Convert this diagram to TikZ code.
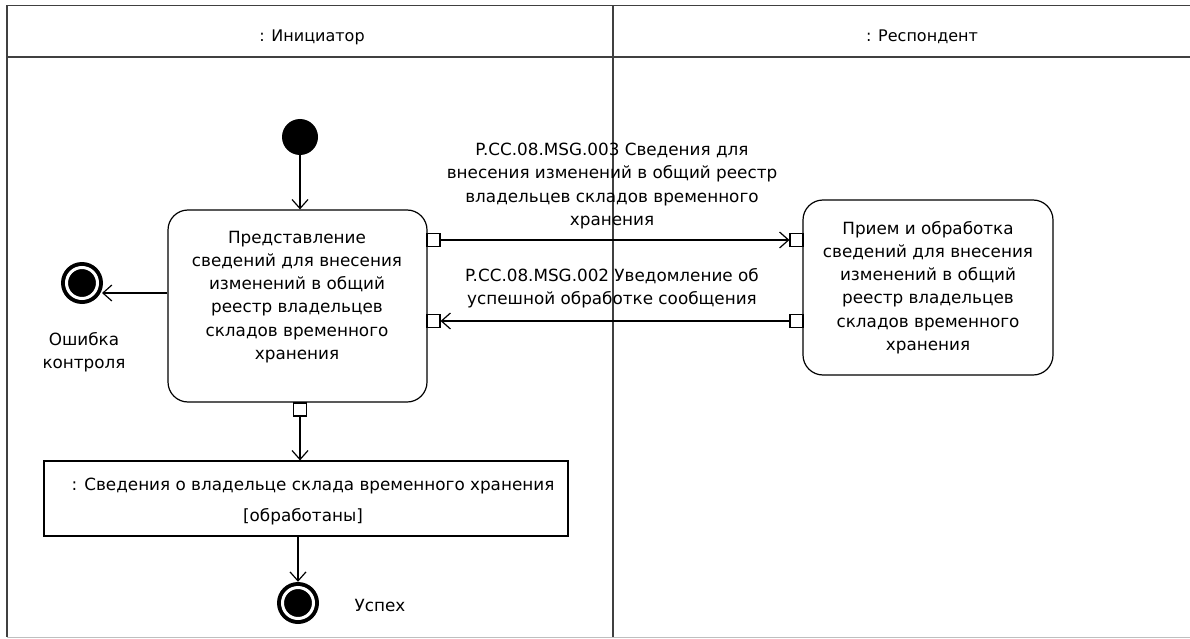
\documentclass[tikz,border=0pt]{standalone}
\usepackage{fontspec}
\setmainfont{DejaVu Sans}
\usetikzlibrary{arrows.meta}
\begin{document}
\begin{tikzpicture}[x=1pt,y=-1pt,
  lane/.style={draw=black!75, line width=1.8pt},
  act/.style={draw, rounded corners=20pt, line width=1.2pt},
  pin/.style={draw, fill=white, line width=1.1pt, minimum size=13pt, inner sep=0pt},
  flow/.style={line width=1.2pt, -{Straight Barb[length=9pt,width=16pt,line width=1.2pt]}},
  txt/.style={font=\fontsize{16.8}{23.2}\selectfont, align=center, inner sep=0pt},
  hdr/.style={font=\fontsize{16}{20}\selectfont, inner sep=0pt},
  initial/.style={circle, fill=black, minimum size=36pt, inner sep=0pt},
  final/.style={circle, fill=black, minimum size=42pt, inner sep=0pt,
    path picture={\draw[white, line width=3pt] (path picture bounding box.center) circle (15.5pt);}},
]
\useasboundingbox (0,0) rectangle (1190,639);
\fill[white] (0,0) rectangle (1190,639);
% frame
\draw[lane] (1195,5.5) -- (7,5.5) -- (7,637);
\draw[lane] (7,57) -- (1195,57);
\draw[lane] (613,5.5) -- (613,637);
\draw[black!25, line width=1.2pt] (7,637.5) -- (1195,637.5);
\node[hdr] (h1) at (312,37) {: Инициатор};
\node[hdr] (h2) at (922,37) {: Респондент};
% initiator lane
\node[initial] (init) at (300,137) {};
\node[act, minimum width=259pt, minimum height=192pt] (a1) at (297.5,306) {};
\node[txt] (a1t) at (297,297) {Представление\\сведений для внесения\\изменений в общий\\реестр владельцев\\складов временного\\хранения};
\node[pin] (p1) at (433.5,240) {};
\node[pin] (p2) at (433.5,321) {};
\node[pin] (p3) at (300,409.5) {};
\node[final] (f1) at (82,283) {};
\coordinate (e1) at (102,293);
\node[txt] (f1l) at (84,352) {Ошибка\\контроля};
\node[draw, line width=1.2pt, minimum width=524pt, minimum height=75pt, inner sep=0pt] (obj) at (306,498.5) {};
\node[txt] (objt1) at (313,486) {: Сведения о владельце склада временного хранения};
\node[txt] (objt2) at (303,517) {[обработаны]};
\node[final] (f2) at (298,603) {};
\node[txt] (f2l) at (380,605) {Успех};
% respondent lane
\node[act, minimum width=250pt, minimum height=175pt] (a2) at (928,287.5) {};
\node[txt] (a2t) at (928,287.5) {Прием и обработка\\сведений для внесения\\изменений в общий\\реестр владельцев\\складов временного\\хранения};
\node[pin] (q1) at (796.5,240) {};
\node[pin] (q2) at (796.5,321) {};
% messages
\node[txt] (m1) at (612,186) {P.CC.08.MSG.003 Сведения для\\внесения изменений в общий реестр\\владельцев складов временного\\хранения};
\node[txt] (m2) at (612,288.5) {P.CC.08.MSG.002 Уведомление об\\успешной обработке сообщения};
% flows
\draw[flow] (init.south) -- (init.south |- a1.north);
\draw[flow] (p1.east) -- (q1.west);
\draw[flow] (q2.west) -- (p2.east);
\draw[flow] (a1.west |- e1) -- (e1);
\draw[flow] (p3.south) -- (p3.south |- obj.north);
\draw[flow] (obj.south -| f2) -- (f2.north);
\end{tikzpicture}
\end{document}
